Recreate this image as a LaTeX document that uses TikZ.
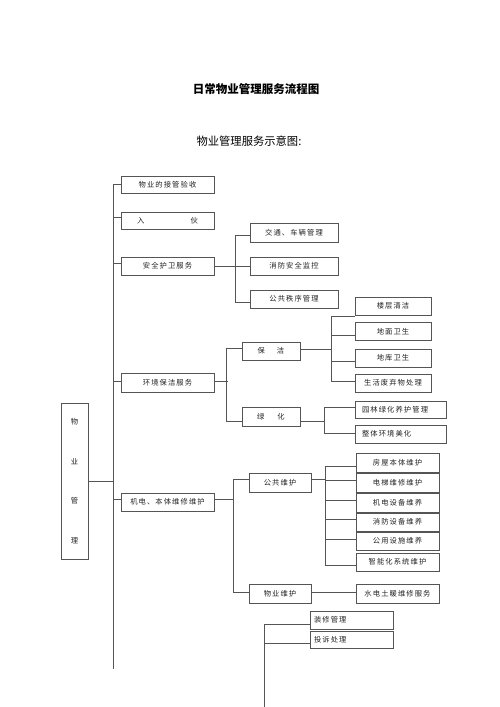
\documentclass[tikz,border=0pt]{standalone}
\usepackage{fontspec}
\newfontfamily\cjk{Noto Sans CJK SC}
\newfontfamily\cjksp[LetterSpace=15]{Noto Sans CJK SC}
\definecolor{linec}{HTML}{555555}
\definecolor{txtc}{HTML}{222222}
\newcommand\boxfont{\cjksp\fontsize{7.3}{9}\selectfont}
\begin{document}
\begin{tikzpicture}[x=1pt,y=-1pt,
  bx/.style={draw=linec, line width=0.8pt, inner sep=0pt, font=\boxfont, text=txtc},
  lbx/.style={bx, align=left},
  ln/.style={draw=linec, line width=0.8pt},
  ttl/.style={font=\cjk\bfseries\fontsize{11.5}{13}\selectfont, text=black, inner sep=0pt},
  sub/.style={font=\cjk\fontsize{11.3}{13}\selectfont, text=black, inner sep=0pt}]
\useasboundingbox (0,0) rectangle (500,707);
\node[ttl] (title) at (256,89) {日常物业管理服务流程图};
\node[sub] (subtitle) at (249,141) {物业管理服务示意图:};
% root
\node[bx, minimum width=27pt, minimum height=156pt, align=center,
  font=\cjksp\fontsize{7.3}{39.5}\selectfont] (root) at (74.5,481) {物\\业\\管\\理};
% level 1
\node[bx, minimum width=93pt, minimum height=17pt] (b1) at (167.5,184.5) {物业的接管验收};
\node[bx, minimum width=93pt, minimum height=17pt] (b2) at (167.5,220.5) {入\hspace{46pt}伙};
\node[bx, minimum width=93pt, minimum height=18pt] (b3) at (167.5,266) {安全护卫服务};
\node[bx, minimum width=93pt, minimum height=19pt] (b4) at (167.5,382.5) {环境保洁服务};
\node[bx, minimum width=93pt, minimum height=18pt] (b5) at (167.5,502) {机电、本体维修维护};
% security
\node[bx, minimum width=88pt, minimum height=19pt] (c1) at (294,232.5) {交通、车辆管理};
\node[bx, minimum width=88pt, minimum height=18pt] (c2) at (294,266) {消防安全监控};
\node[bx, minimum width=88pt, minimum height=18pt] (c3) at (294,299) {公共秩序管理};
% environment
\node[bx, minimum width=58pt, minimum height=18pt] (d1) at (271,351) {保\hspace{12pt}洁};
\node[bx, minimum width=58pt, minimum height=19pt] (d2) at (271,416.5) {绿\hspace{13pt}化};
\node[bx, minimum width=76pt, minimum height=18pt] (e1) at (393,306) {楼层清洁};
\node[bx, minimum width=76pt, minimum height=18pt] (e2) at (393,331.5) {地面卫生};
\node[bx, minimum width=76pt, minimum height=18pt] (e3) at (393,358) {地库卫生};
\node[bx, minimum width=76pt, minimum height=18pt] (e4) at (393,383) {生活废弃物处理};
\node[lbx, minimum width=91pt, minimum height=17pt, text width=77pt, inner xsep=7pt] (f1) at (400.5,410) {园林绿化养护管理};
\node[lbx, minimum width=91pt, minimum height=18pt, text width=77pt, inner xsep=7pt] (f2) at (400.5,434) {整体环境美化};
% maintenance
\node[bx, minimum width=62pt, minimum height=19pt] (g1) at (280,482.5) {公共维护};
\node[bx, minimum width=62pt, minimum height=19pt] (g2) at (280,593.5) {物业维护};
\node[bx, minimum width=83pt, minimum height=19pt] (h1) at (397.5,462.5) {房屋本体维护};
\node[bx, minimum width=83pt, minimum height=19pt] (h2) at (397.5,482.5) {电梯维修维护};
\node[bx, minimum width=83pt, minimum height=19pt] (h3) at (397.5,502.5) {机电设备维养};
\node[bx, minimum width=83pt, minimum height=18pt] (h4) at (397.5,522) {消防设备维养};
\node[bx, minimum width=83pt, minimum height=18pt] (h5) at (397.5,541) {公用设施维养};
\node[bx, minimum width=83pt, minimum height=18pt] (h6) at (397.5,562) {智能化系统维护};
\node[bx, minimum width=83pt, minimum height=19pt] (h7) at (397.5,593.5) {水电土暖维修服务};
% bottom
\node[lbx, minimum width=83pt, minimum height=18pt, text width=75pt, inner xsep=4pt] (k1) at (351.5,620) {装修管理};
\node[lbx, minimum width=83pt, minimum height=17pt, text width=75pt, inner xsep=4pt] (k2) at (351.5,639.5) {投诉处理};
% free ends
\coordinate (mB) at (113,669);
\coordinate (kB) at (264,707);
% main spine
\draw[ln] (b1.west) -| (mB);
\draw[ln] ([yshift=3.5pt]b2.west) -- ++(-8,0);
\draw[ln] ([yshift=3pt]b3.west) -- ++(-8,0);
\draw[ln] ([yshift=1.5pt]b4.west) -- ++(-8,0);
\draw[ln] ([yshift=3pt]b5.west) -- ++(-8,0);
\draw[ln] (root.east) -- (root.east -| mB);
% security bracket
\draw[ln] (b3.east) -- ++(22,0);
\draw[ln] ([yshift=-2.5pt]c1.west) -- ++(-14,0) |- ([yshift=-3pt]c3.west);
\draw[ln] (c2.west) -- ++(-14,0);
% environment bracket
\draw[ln] ([yshift=1.5pt]b4.east) -- ++(14,0);
\draw[ln] ([yshift=3pt]d1.west) -- ++(-15,0) |- ([yshift=-4.5pt]d2.west);
% cleaning bracket
\draw[ln] ([yshift=2pt]d1.east) -- ++(32,0);
\draw[ln] ([yshift=-10pt]e1.west) -- ++(-23,0) |- ([yshift=2pt]e4.west);
\draw[ln] ([yshift=-3.5pt]e2.west) -- ++(-23,0);
\draw[ln] ([yshift=-3pt]e3.west) -- ++(-23,0);
% greening bracket
\draw[ln] ([yshift=-4.5pt]d2.east) -- ++(25,0);
\draw[ln] ([yshift=3pt]f1.west) -- ++(-30,0) |- ([yshift=1pt]f2.west);
% maintenance bracket
\draw[ln] ([yshift=3pt]b5.east) -- ++(20,0);
\draw[ln] ([yshift=3.5pt]g1.west) -- ++(-15,0) |- ([yshift=1.5pt]g2.west);
% public maintenance bracket
\draw[ln] ([yshift=3.5pt]g1.east) -- ++(15,0);
\draw[ln] ([yshift=-3.5pt]h1.west) -- ++(-30,0) |- ([yshift=-3pt]h6.west);
\draw[ln] ([yshift=2.5pt]h2.west) -- ++(-30,0);
\draw[ln] ([yshift=2.5pt]h3.west) -- ++(-30,0);
\draw[ln] ([yshift=3pt]h4.west) -- ++(-30,0);
\draw[ln] ([yshift=2pt]h5.west) -- ++(-30,0);
\draw[ln] ([yshift=1.5pt]g2.east) -- ([yshift=1.5pt]h7.west);
% bottom bracket
\draw[ln] ([yshift=-4pt]k1.west) -| (kB);
\draw[ln] ([yshift=-3.5pt]k2.west) -- ++(-46,0);
\end{tikzpicture}
\end{document}
